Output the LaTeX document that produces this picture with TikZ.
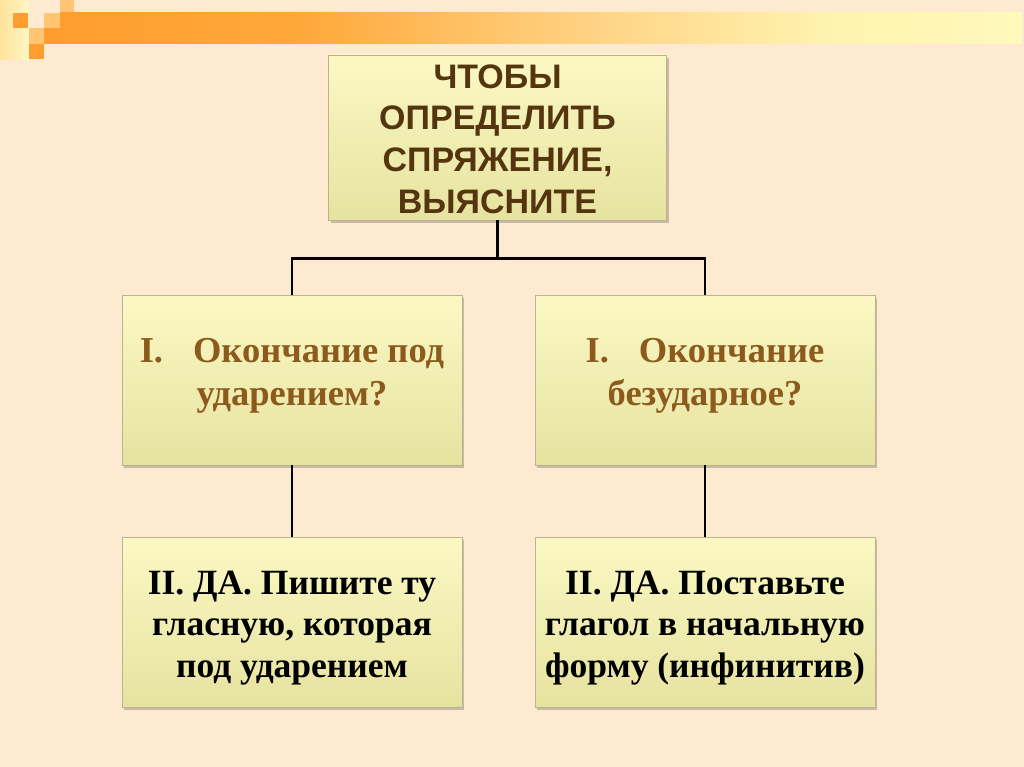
\documentclass[tikz,border=0pt]{standalone}
\usepackage{fontspec}
\setmainfont{Liberation Serif}
\newfontfamily\hsans{Liberation Sans}
\usetikzlibrary{shadows}
\definecolor{bgc}{HTML}{FDEAD0}
\definecolor{boxtop}{HTML}{FBF8C4}
\definecolor{boxbot}{HTML}{E6E3A0}
\definecolor{boxedge}{HTML}{B9B48C}
\definecolor{toptxt}{HTML}{553510}
\definecolor{midtxt}{HTML}{8C5A1C}
\definecolor{orA}{HTML}{FF9E2E}
\definecolor{orB}{HTML}{FFA83A}
\definecolor{orC}{HTML}{FFD486}
\definecolor{orD}{HTML}{FFF2AE}
\definecolor{orE}{HTML}{FFF9BA}
\definecolor{orL}{HTML}{FFC572}
\definecolor{paleA}{HTML}{FFE39A}
\definecolor{paleB}{HTML}{FFF7C4}
\tikzset{
  box/.style={rectangle, draw=boxedge, line width=0.8pt, top color=boxtop, bottom color=boxbot,
    minimum width=340pt, minimum height=170pt, inner sep=0pt,
    drop shadow={shadow xshift=2pt, shadow yshift=-3pt, opacity=0.3, fill=black!70}},
  topbox/.style={box, minimum width=338pt, minimum height=165pt},
  toptext/.style={align=center, text=toptxt, font=\hsans\bfseries\fontsize{34}{41.7}\selectfont, inner sep=0pt},
  midtext/.style={align=center, text=midtxt, font=\bfseries\fontsize{36.5}{43.5}\selectfont, inner sep=0pt},
  bottext/.style={align=center, text=black, font=\bfseries\fontsize{35.5}{41.5}\selectfont, inner sep=0pt},
  link/.style={draw=black, line width=2.5pt}
}
\begin{document}
\begin{tikzpicture}[x=1pt,y=-1pt]
\useasboundingbox (0,0) rectangle (1024,767);
\fill[bgc] (0,0) rectangle (1024,767);
% decoration
\shade[left color=paleA, right color=paleB] (0,0) rectangle (29,60);
\fill[orA] (13,13) rectangle (28,28);
\fill[orL] (60,0) rectangle (74,13);
\fill[orL] (44,13) rectangle (60,28);
\fill[orL] (29,28) rectangle (44,44);
\fill[orA] (29,44) rectangle (44,59);
\fill[orA] (44,28) rectangle (60.5,44);
\shade[left color=orA, right color=orB] (60,13) rectangle (300.5,44);
\shade[left color=orB, right color=orC] (300,13) rectangle (600.5,44);
\shade[left color=orC, right color=orD] (600,13) rectangle (820.5,44);
\shade[left color=orD, right color=orE] (820,13) rectangle (1022,44);
% boxes
\node[topbox] (b0) at (497.5,137.5) {};
\node[box] (b1) at (292,380) {};
\node[box] (b2) at (705,380) {};
\node[box] (b3) at (292,622) {};
\node[box] (b4) at (705,622) {};
% texts
\node[toptext, yshift=-1.5pt] (t0) at (b0.center) {ЧТОБЫ\\ОПРЕДЕЛИТЬ\\СПРЯЖЕНИЕ,\\ВЫЯСНИТЕ};
\node[midtext, yshift=4pt] (t1) at (b1.center) {I.\hspace{30pt}Окончание под\\ударением?};
\node[midtext, yshift=4pt] (t2) at (b2.center) {I.\hspace{30pt}Окончание\\безударное?};
\node[bottext, yshift=-6pt] (t3) at (b3.center) {II. ДА. Пишите ту\\гласную, которая\\под ударением};
\node[bottext, yshift=-6pt] (t4) at (b4.center) {II. ДА. Поставьте\\глагол в начальную\\форму (инфинитив)};
% connectors
\coordinate (j) at ([yshift=-38pt]b0.south);
\draw[link] (b0.south) -- (j);
\draw[link] (b1.north) |- (j) -| (b2.north);
\draw[link] (b1.south) -- (b3.north);
\draw[link] (b2.south) -- (b4.north);
\end{tikzpicture}
\end{document}
